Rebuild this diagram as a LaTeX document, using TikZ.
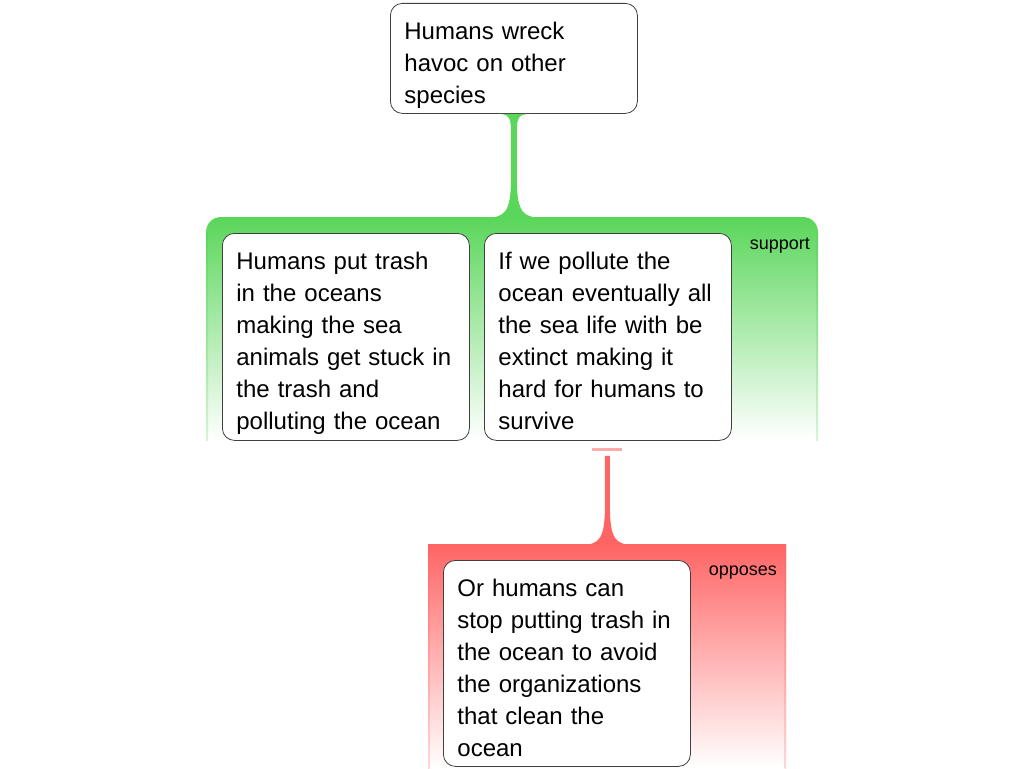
\documentclass[tikz,border=0pt]{standalone}
\usepackage{fontspec}
\setmainfont{Liberation Sans}
\usetikzlibrary{calc}
\definecolor{supg}{RGB}{90,214,90}
\definecolor{oppr}{RGB}{255,100,100}
\newcommand{\leadrule}[1]{\rule{0pt}{#1}}
\newcommand{\tailrule}[1]{\rule[-#1]{0pt}{#1}}
\begin{document}
\begin{tikzpicture}[x=1pt,y=-1pt,
  claim/.style={draw=black!75, line width=0.8pt, fill=white, rounded corners=12pt,
    anchor=north west, text width=219pt, align=left, inner xsep=14pt, inner ysep=0pt,
    font=\fontsize{24}{32}\selectfont},
  tag/.style={font=\fontsize{18}{20}\selectfont, inner sep=0pt, anchor=east}]
\useasboundingbox (0,0) rectangle (1024,768);

% support region
\shade[top color=supg, bottom color=white, rounded corners=15pt]
  (206,440) -- (206,217) -- (818,217) -- (818,440) -- cycle;
\shade[top color=supg, bottom color=supg!25] (206,232) rectangle (208,440);
\shade[top color=supg, bottom color=supg!25] (816,232) rectangle (818,440);

% oppose region
\shade[top color=oppr, bottom color=white] (428,544) rectangle (786,768);
\shade[top color=oppr, bottom color=oppr!25] (428,544) rectangle (429.5,768);
\shade[top color=oppr, bottom color=oppr!25] (784.5,544) rectangle (786,768);

% nodes
\node[claim, minimum height=110pt] (top) at (390,3) {\leadrule{31pt}Humans wreck\\havoc on other\\species};
\node[claim, minimum height=207pt] (c1) at (222,233) {\leadrule{31pt}Humans put trash\\in the oceans\\making the sea\\animals get stuck in\\the trash and\\polluting the ocean};
\node[claim, minimum height=207pt] (c2) at (484,233) {\leadrule{31pt}If we pollute the\\ocean eventually all\\the sea life with be\\extinct making it\\hard for humans to\\survive\tailrule{5pt}};
\node[claim, minimum height=206pt] (c3) at (443,560) {\leadrule{27pt}Or humans can\\stop putting trash in\\the ocean to avoid\\the organizations\\that clean the\\ocean};
\node[tag] (lsup) at (810,246) {support};
\node[tag] (lopp) at (777,573) {opposes};

% green stem from top box to support region
\coordinate (gs) at (top.south);
\fill[supg]
  ($(gs)+(-17,0)$) .. controls ($(gs)+(-5,0)$) and ($(gs)+(-3,4)$) .. ($(gs)+(-3,16)$)
  -- ($(gs)+(-3,66)$) .. controls ($(gs)+(-3,100)$) and ($(gs)+(-10,104)$) .. ($(gs)+(-30,104)$)
  -- ($(gs)+(30,104)$) .. controls ($(gs)+(10,104)$) and ($(gs)+(3,100)$) .. ($(gs)+(3,66)$)
  -- ($(gs)+(3,16)$) .. controls ($(gs)+(3,4)$) and ($(gs)+(5,0)$) .. ($(gs)+(17,0)$) -- cycle;

% red stem from second claim to oppose region
\coordinate (rs) at ($(c2.south)+(-0.5,0)$);
\fill[oppr!55] ($(rs)+(-15,7)$) rectangle ($(rs)+(15,10)$);
\fill[oppr]
  ($(rs)+(-2.5,15)$) -- ($(rs)+(-2.5,65)$) .. controls ($(rs)+(-2.5,98)$) and ($(rs)+(-8,104)$) .. ($(rs)+(-26,104)$)
  -- ($(rs)+(26,104)$) .. controls ($(rs)+(8,104)$) and ($(rs)+(2.5,98)$) .. ($(rs)+(2.5,65)$)
  -- ($(rs)+(2.5,15)$) -- cycle;
\end{tikzpicture}
\end{document}
